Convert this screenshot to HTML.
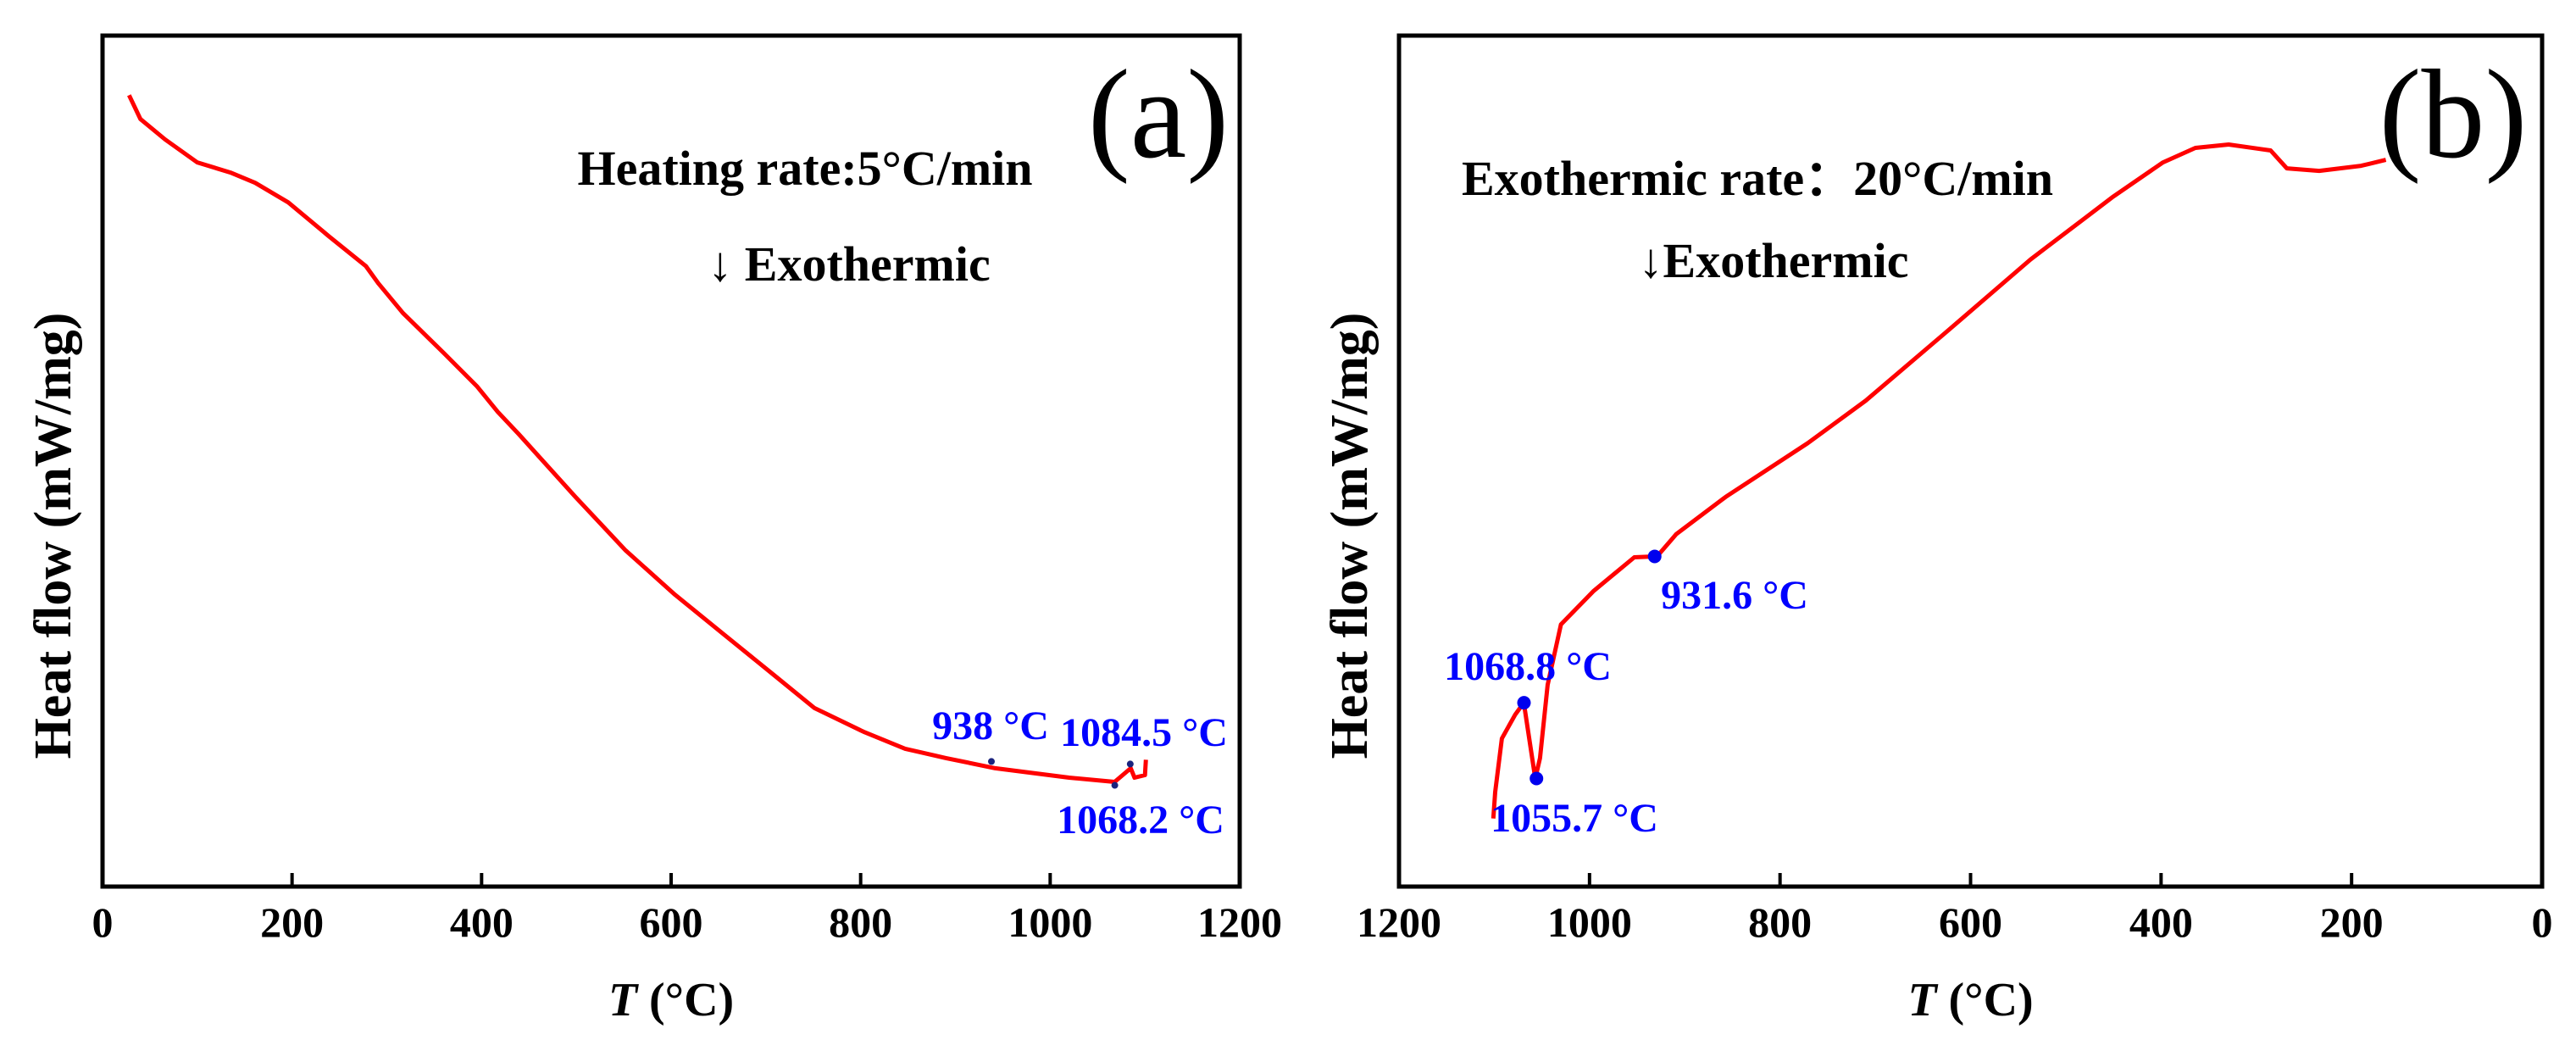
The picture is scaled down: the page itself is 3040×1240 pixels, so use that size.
<!DOCTYPE html>
<html><head><meta charset="utf-8"><style>
html,body{margin:0;padding:0;background:#fff;overflow:hidden}
svg{display:block}
text{font-family:"Liberation Serif",serif}
</style></head><body>
<svg id="chart" width="3040" height="1240" viewBox="0 0 3040 1240" xmlns="http://www.w3.org/2000/svg"></svg>
<script>
const ticksA=[0,200,400,600,800,1000,1200];
const ticksB=[1200,1000,800,600,400,200,0];
const tempA=[28,40,66,100,135,161,196,239,278,291,317,361,395,417,439,499,552,604,656,708,751,803,847,890,942,1020,1068,1085,1089,1100,1101];
const flowA=[93.0,90.2,87.8,85.1,83.9,82.7,80.4,76.4,72.9,70.9,67.4,62.6,58.8,55.8,53.2,45.8,39.5,34.3,29.6,24.9,21.0,18.2,16.2,15.1,13.9,12.8,12.3,13.9,12.8,13.1,14.9];
const markTA=[938,1068.2,1084.5];
const markFA=[14.7,11.9,14.4];
const markLabelA=["938 °C","1068.2 °C","1084.5 °C"];
const tempB=[1101,1099,1092,1078,1069,1057,1052,1044,1030,996,953,929,909,857,771,710,623,537,450,398,364,329,285,268,234,190,164];
const flowB=[8.0,11.1,17.4,20.2,21.6,12.7,15.1,23.7,30.8,34.7,38.7,38.8,41.4,45.8,52.1,57.1,65.4,73.7,81.1,85.1,86.8,87.2,86.5,84.4,84.1,84.7,85.4];
const markTB=[1068.8,1055.7,931.6];
const markFB=[21.6,12.7,38.8];
const markLabelB=["1068.8 °C","1055.7 °C","931.6 °C"];

const NS="http://www.w3.org/2000/svg";
const svg=document.getElementById('chart');
function mk(tag,attrs,parent,txt){const e=document.createElementNS(NS,tag);for(const k in attrs)e.setAttribute(k,attrs[k]);if(txt!==undefined)e.textContent=txt;(parent||svg).appendChild(e);return e;}
const TOP=42,BOT=1046;
const yS=v=>BOT-v/100*(BOT-TOP);

function panel(L,R,reversed,temps,flows,ticks,mT,mF,mLabels,labelPos,dotR,dotColor,texts,letter,name){
  const g=mk('g',{});
  
  
  const xS=t=>reversed? L+(1200-t)/1200*(R-L) : L+t/1200*(R-L);
  const fr=mk('rect',{x:L,y:TOP,width:R-L,height:BOT-TOP,fill:'none',stroke:'#000','stroke-width':5},g);
  
  
  ticks.forEach(t=>{
    const x=xS(t);
    const tk=mk('line',{x1:x,x2:x,y1:BOT,y2:BOT-16,stroke:'#000','stroke-width':4},g);
    
    
    const tl=mk('text',{x:x,y:1105,'text-anchor':'middle','font-size':50,'font-weight':'bold'},g,String(t));
    
    
  });
  const xt=mk('text',{x:(L+R)/2,y:1198,'text-anchor':'middle','font-size':56,'font-weight':'bold'},g);
  
  
  mk('tspan',{'font-style':'italic'},xt,'T');
  mk('tspan',{},xt,' (°C)');
  const yt=mk('text',{x:0,y:0,transform:`translate(${L-38},632) rotate(-90)`,'text-anchor':'middle','font-size':62,'font-weight':'bold'},g,'Heat flow (mW/mg)');
  
  
  const d=temps.map((t,i)=>(i?'L':'M')+xS(t).toFixed(1)+','+yS(flows[i]).toFixed(1)).join(' ');
  const p=mk('path',{d:d,fill:'none',stroke:'#ff0000','stroke-width':5,'stroke-linejoin':'round'},g);
  
  
  mT.forEach((t,i)=>{
    const c=mk('circle',{cx:xS(t),cy:yS(mF[i]),r:dotR,fill:dotColor},g);
    
    
    const lt=mk('text',{x:labelPos[i][0],y:labelPos[i][1],'text-anchor':'middle','font-size':48,'font-weight':'bold',fill:'#0000ff'},g,mLabels[i]);
    
    
  });
  texts.forEach(tx=>{
    const a=mk('text',{x:tx[0],y:tx[1],'text-anchor':'middle','font-size':58,'font-weight':'bold'},g,tx[2]);
    
    
  });
  const lt=mk('text',{x:letter[0],y:letter[1],'text-anchor':'middle','font-size':150},g,letter[2]);
  
  
}
panel(121,1463,false,tempA,flowA,ticksA,markTA,markFA,markLabelA,[[1169,872],[1346,983],[1350,880]],4,'#1a237e',
  [[950,218,'Heating rate:5°C/min','rate-annotation'],[1002,331,'↓ Exothermic','exothermic-annotation']],[1367,185,'(a)'],'panel-a');
panel(1651,3000,true,tempB,flowB,ticksB,markTB,markFB,markLabelB,[[1803,802],[1858,981],[2047,718]],8,'#0000ee',
  [[2074,230,'Exothermic rate：20°C/min','rate-annotation'],[2093,327,'↓Exothermic','exothermic-annotation']],[2895,185,'(b)'],'panel-b');
</script>
</body></html>
